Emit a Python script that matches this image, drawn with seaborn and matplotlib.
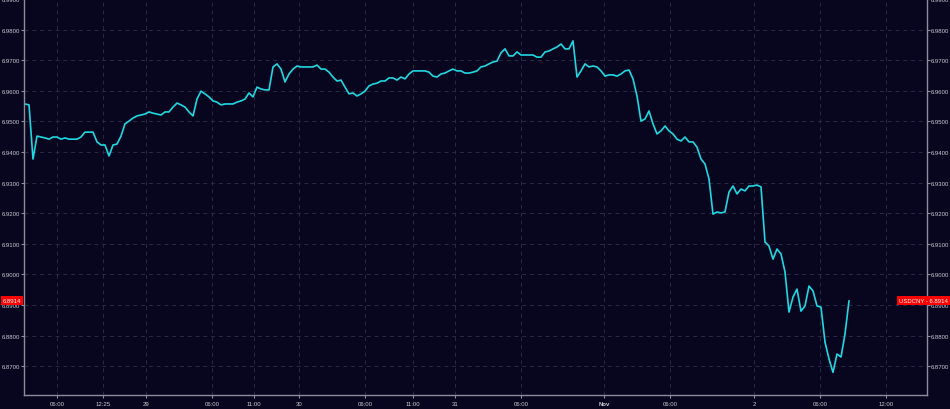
import matplotlib.pyplot as plt
import matplotlib.transforms as mtransforms
import seaborn as sns
import numpy as np

# ── data: USDCNY intraday quotes (evenly spaced samples) ──
usdcny = [
    6.9557, 6.9554, 6.9377, 6.9452, 6.9449, 6.9446, 6.9442, 6.9449, 6.9449, 6.9442,
    6.9446, 6.9442, 6.9442, 6.9442, 6.9449, 6.9465, 6.9465, 6.9465, 6.9433, 6.9423,
    6.9423, 6.9387, 6.9423, 6.9426, 6.9452, 6.9492, 6.9501, 6.9511, 6.9518, 6.9521,
    6.9524, 6.9531, 6.9527, 6.9524, 6.9521, 6.9531, 6.9531, 6.9547, 6.9560, 6.9554,
    6.9547, 6.9531, 6.9518, 6.9573, 6.9599, 6.9590, 6.9580, 6.9567, 6.9563, 6.9554,
    6.9557, 6.9557, 6.9557, 6.9563, 6.9567, 6.9573, 6.9593, 6.9580, 6.9612, 6.9606,
    6.9603, 6.9603, 6.9678, 6.9688, 6.9671, 6.9629, 6.9655, 6.9671, 6.9681, 6.9678,
    6.9678, 6.9678, 6.9678, 6.9684, 6.9671, 6.9671, 6.9661, 6.9645, 6.9632, 6.9635,
    6.9612, 6.9590, 6.9593, 6.9583, 6.9590, 6.9599, 6.9616, 6.9622, 6.9625, 6.9632,
    6.9632, 6.9642, 6.9642, 6.9635, 6.9645, 6.9639, 6.9655, 6.9665, 6.9665, 6.9665,
    6.9665, 6.9661, 6.9648, 6.9645, 6.9655, 6.9658, 6.9665, 6.9671, 6.9665, 6.9665,
    6.9658, 6.9658, 6.9661, 6.9665, 6.9678, 6.9681, 6.9688, 6.9694, 6.9697, 6.9724,
    6.9737, 6.9714, 6.9714, 6.9727, 6.9717, 6.9717, 6.9717, 6.9717, 6.9710, 6.9710,
    6.9727, 6.9730, 6.9737, 6.9743, 6.9753, 6.9737, 6.9737, 6.9763, 6.9645, 6.9665,
    6.9688, 6.9678, 6.9681, 6.9678, 6.9665, 6.9648, 6.9652, 6.9652, 6.9648, 6.9655,
    6.9665, 6.9668, 6.9639, 6.9583, 6.9501, 6.9508, 6.9534, 6.9492, 6.9459, 6.9469,
    6.9485, 6.9469, 6.9459, 6.9442, 6.9436, 6.9449, 6.9433, 6.9433, 6.9416, 6.9377,
    6.9361, 6.9312, 6.9197, 6.9204, 6.9201, 6.9204, 6.9269, 6.9289, 6.9263, 6.9279,
    6.9273, 6.9289, 6.9289, 6.9292, 6.9286, 6.9106, 6.9093, 6.9050, 6.9083, 6.9067,
    6.9008, 6.8877, 6.8926, 6.8952, 6.8880, 6.8897, 6.8962, 6.8946, 6.8897, 6.8893,
    6.8779, 6.8724, 6.8680, 6.8740, 6.8730, 6.8805, 6.8914,
]
sample_idx = np.arange(len(usdcny))

# session ticks (position in sample units) and their labels
tick_pos = [8.0, 19.5, 30.25, 46.75, 57.25, 68.5, 85.0, 97.0, 107.5,
            124.0, 144.75, 161.25, 182.25, 198.75, 215.25]
tick_labels = ['06:00', '12:25', '29', '06:00', '11:00', '30', '06:00', '11:00', '31',
               '06:00', 'Nov', '06:00', '2', '06:00', '12:00']
y_ticks = [6.87, 6.88, 6.89, 6.90, 6.91, 6.92, 6.93, 6.94, 6.95, 6.96, 6.97, 6.98, 6.99]
symbol = 'USDCNY'

BG = '#08061e'
GRID = '#2a2946'
SPINE = '#8c8c9c'
TXT = '#c9c9d2'
LINE = '#1fd8e2'

sns.set_style('dark', rc={'axes.facecolor': BG, 'figure.facecolor': BG})
plt.rcParams['font.family'] = ['Liberation Sans', 'DejaVu Sans']

fig = plt.figure(figsize=(9.5, 4.1), dpi=100)
ax = fig.add_axes([24 / 950, 14 / 410, 903 / 950, 396 / 410])
ax.set_facecolor(BG)

sns.lineplot(x=sample_idx, y=usdcny, ax=ax, color=LINE, linewidth=1.2)

ax.set_xlim(-0.25, 225.5)
ax.set_ylim(6.8606, 6.9900)
ax.set_xticks(tick_pos)
ax.set_xticklabels(tick_labels)
ax.set_yticks(y_ticks)
ax.set_yticklabels([f'{v:.4f}' for v in y_ticks])
for lbl in ax.get_xticklabels():
    if lbl.get_text() == 'Nov':
        lbl.set_fontweight('bold')
        lbl.set_color('white')

ax.grid(True, color=GRID, linestyle=(0, (4, 4)), linewidth=0.7)
ax.tick_params(axis='both', colors=SPINE, labelcolor=TXT, labelsize=4.3,
               length=2, width=0.8, pad=1)
ax.tick_params(axis='y', left=True, right=True, labelleft=True, labelright=True)
ax.tick_params(axis='x', bottom=True, pad=2)

for side in ['left', 'right', 'bottom']:
    ax.spines[side].set_visible(True)
    ax.spines[side].set_color(SPINE)
    ax.spines[side].set_linewidth(1.0)
ax.spines['top'].set_visible(False)
ax.set_xlabel('')
ax.set_ylabel('')

# last price markers
last = usdcny[-1]
tr = mtransforms.blended_transform_factory(fig.transFigure, ax.transData)
ax.text(21.5 / 950, last, f'{last:.4f}', transform=tr, ha='right', va='center',
        fontsize=4.3, color='white', clip_on=False,
        bbox=dict(boxstyle='square,pad=0.3', facecolor='#ff0000', edgecolor='none'))
ax.text(948 / 950, last, f'{symbol} - {last:.4f}', transform=tr, ha='right', va='center',
        fontsize=4.3, color='white', clip_on=False,
        bbox=dict(boxstyle='square,pad=0.3', facecolor='#ff0000', edgecolor='none'))

plt.savefig('out.png', dpi=100, facecolor=BG)
plt.close()
